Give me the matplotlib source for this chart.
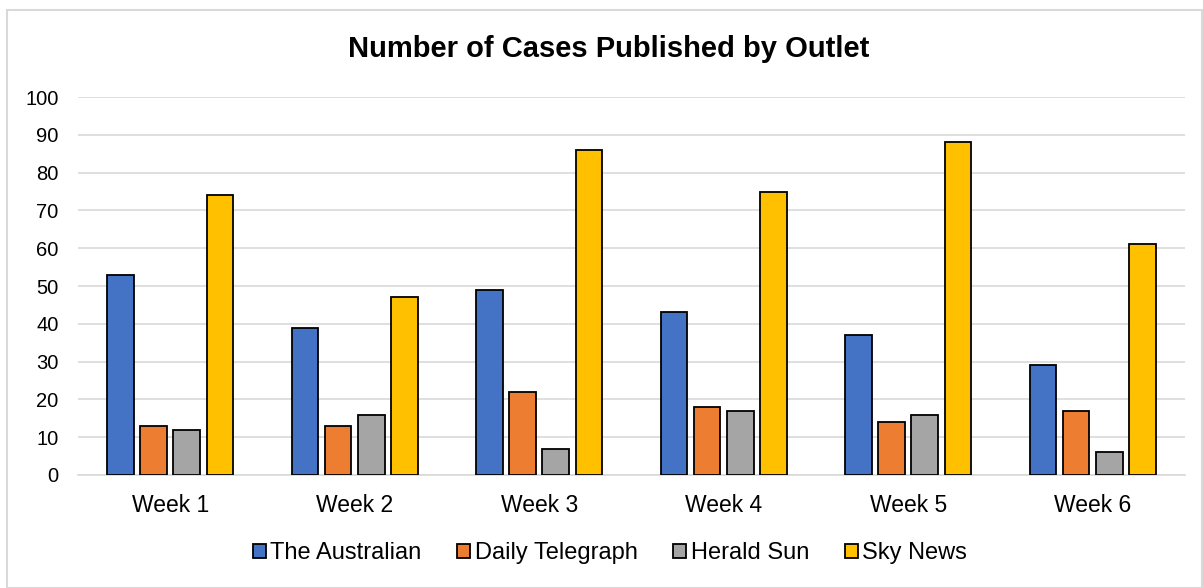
import matplotlib
matplotlib.use("Agg")
import matplotlib.pyplot as plt
import numpy as np
from matplotlib.patches import Rectangle

categories = ["Week 1", "Week 2", "Week 3", "Week 4", "Week 5", "Week 6"]
series_names = ["The Australian", "Daily Telegraph", "Herald Sun", "Sky News"]
the_australian = [53, 39, 49, 43, 37, 29]
daily_telegraph = [13, 13, 22, 18, 14, 17]
herald_sun = [12, 16, 7, 17, 16, 6]
sky_news = [74, 47, 86, 75, 88, 61]
colors = ["#4472C4", "#ED7D31", "#A5A5A5", "#FFC000"]

plt.rcParams['font.family'] = ['Liberation Sans', 'DejaVu Sans']

fig = plt.figure(figsize=(12.03, 5.88), dpi=100)
ax = fig.add_axes([0.0648, 0.1922, 0.9202, 0.6428])

x = np.arange(len(categories))
bw = 0.145
slot = 0.18
data = [the_australian, daily_telegraph, herald_sun, sky_news]
for i, (vals, name, c) in enumerate(zip(data, series_names, colors)):
    ax.bar(x + (i - 1.5) * slot, vals, width=bw, color=c, edgecolor='black',
           linewidth=1.3, label=name, zorder=3)

ax.set_xlim(-0.5, len(categories) - 0.5)
ax.set_ylim(0, 100)
ax.set_yticks(range(0, 101, 10))
ax.set_xticks(x)
ax.set_xticklabels(categories, fontsize=16.5)
ax.tick_params(axis='y', labelsize=14.5, length=0, pad=14)
ax.tick_params(axis='x', length=0, pad=14)
ax.grid(axis='y', color='#D9D9D9', linewidth=1.2, zorder=0)
for s in ['top', 'right', 'left']:
    ax.spines[s].set_visible(False)
ax.spines['bottom'].set_color('#D9D9D9')
ax.spines['bottom'].set_linewidth(1.2)

fig.text(0.506, 0.917, "Number of Cases Published by Outlet", ha='center', va='center',
         fontsize=21, fontweight='bold')

leg = fig.legend(loc='center', bbox_to_anchor=(0.507, 0.059), ncol=4, frameon=False,
                 fontsize=17, handlelength=0.55, handleheight=0.55, handletextpad=0.2,
                 columnspacing=1.5)

fig.patches.append(Rectangle((7 / 1203, 0), 1 - 7 / 1203 - 0.001, 1 - 10 / 588,
                             transform=fig.transFigure, fill=False,
                             edgecolor='#D9D9D9', linewidth=1.5))

fig.savefig("out.png", dpi=100)
